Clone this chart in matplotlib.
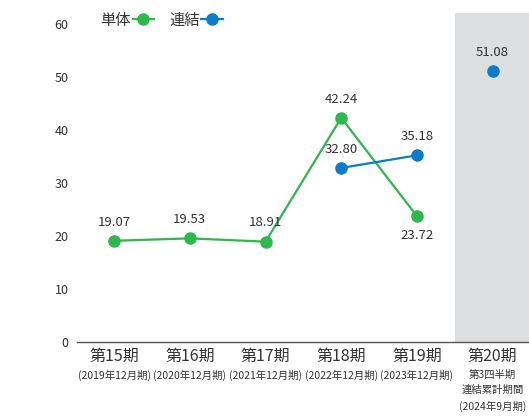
import numpy as np
import matplotlib.pyplot as plt
from matplotlib.transforms import blended_transform_factory

plt.rcParams['font.family'] = ['Noto Sans CJK JP', 'DejaVu Sans']

# =============================
# DATA
# =============================
periods = ["第15期", "第16期", "第17期", "第18期", "第19期", "第20期"]
sub_labels = ["(2019年12月期)", "(2020年12月期)", "(2021年12月期)",
              "(2022年12月期)", "(2023年12月期)",
              "第3四半期\n連結累計期間\n(2024年9月期)"]
single_x = [0, 1, 2, 3, 4]
single_vals = [19.07, 19.53, 18.91, 42.24, 23.72]
consol_x = [3, 4]
consol_vals = [32.80, 35.18]
consol_q3_x = [5]
consol_q3_vals = [51.08]
yticks = [0, 10, 20, 30, 40, 50, 60]

green = "#2db84b"
blue = "#0a7cc9"
txt = "#333333"

# =============================
# PLOT
# =============================
fig = plt.figure(figsize=(5.29, 4.20), dpi=100)
ax = fig.add_axes([77 / 529, 78 / 420, 1 - 77 / 529, (342 - 13) / 420])

ax.axvspan(4.5, 5.5, color="#dddee0", zorder=0, lw=0)

ax.plot(single_x, single_vals, color=green, lw=1.6, marker="o", ms=8,
        label="単体", zorder=3)
ax.plot(consol_x, consol_vals, color=blue, lw=1.6, marker="o", ms=8,
        label="連結", zorder=3)
ax.plot(consol_q3_x, consol_q3_vals, color=blue, lw=0, marker="o", ms=8,
        zorder=3)

# value labels
for x, v in zip(single_x, single_vals):
    dy = -14 if x == 4 else 13.5
    ax.annotate("%.2f" % v, (x, v), xytext=(0, dy), textcoords="offset points",
                ha="center", va="center", fontsize=9.5, color=txt)
for x, v in zip(consol_x + consol_q3_x, consol_vals + consol_q3_vals):
    ax.annotate("%.2f" % v, (x, v), xytext=(0, 13.5), textcoords="offset points",
                ha="center", va="center", fontsize=9.5, color=txt)

ax.set_xlim(-0.49, 5.48)
ax.set_ylim(0, 62)
ax.set_yticks(yticks)
ax.set_yticklabels([str(t) for t in yticks], fontsize=9, color=txt)
ax.tick_params(axis="y", length=0, pad=6)
ax.set_xticks([])

for s in ["top", "right", "left"]:
    ax.spines[s].set_visible(False)
ax.spines["bottom"].set_color("#555555")
ax.spines["bottom"].set_linewidth(1.0)

# category labels
trans = blended_transform_factory(ax.transData, fig.transFigure)
for i, (p, s) in enumerate(zip(periods, sub_labels)):
    ax.text(i, 1 - 356 / 420, p, transform=trans, ha="center", va="center",
            fontsize=11.5, color=txt)
    ax.text(i, 1 - 370 / 420, s, transform=trans, ha="center", va="top",
            fontsize=7.5, color=txt, linespacing=1.6)

leg = ax.legend(loc="center left", bbox_to_anchor=(93 / 529, 1 - 20 / 420),
                bbox_transform=fig.transFigure, ncol=2, markerfirst=False,
                frameon=False, fontsize=11, handlelength=1.4,
                handletextpad=0.1, columnspacing=1.0, borderpad=0)
for t in leg.get_texts():
    t.set_color(txt)

plt.savefig("out.png", dpi=100)
